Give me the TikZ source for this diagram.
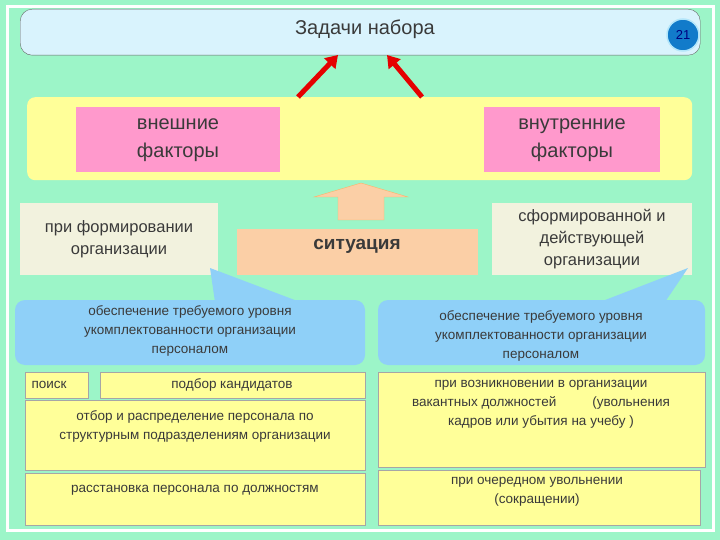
\documentclass[tikz,border=0pt]{standalone}
\usepackage{fontspec}
\setmainfont{Liberation Sans}
\usetikzlibrary{arrows.meta}
\definecolor{mint}{HTML}{9CF5C8}
\definecolor{ylw}{HTML}{FFFF99}
\definecolor{pnk}{HTML}{FF99CC}
\definecolor{beig}{HTML}{F2F2DE}
\definecolor{peach}{HTML}{FBCFA6}
\definecolor{cblue}{HTML}{8FD0F8}
\definecolor{txt}{HTML}{3A3A3A}
\begin{document}
\begin{tikzpicture}[x=1pt,y=-1pt,
  box/.style={draw=black!35,fill=ylw,inner sep=2pt,align=center,text=txt},
  sm/.style={align=center,font=\fontsize{13.5}{19}\selectfont,text=txt},
  tbox/.style={fill=beig,align=center,font=\fontsize{16.5}{22}\selectfont,text=txt},
  pbox/.style={fill=pnk,align=center,font=\fontsize{20}{28}\selectfont,text=txt},
  redarr/.style={line width=5pt,-{Triangle[length=12pt,width=15pt]},red!90!black}]
\fill[mint] (0,0) rectangle (720,540);
\draw[white,line width=3pt] (7,7) rectangle (713,530);
% title
\node[draw=black!60,fill=cyan!15,rounded corners=12pt,minimum width=680pt,minimum height=46pt,anchor=north west] (title) at (20,9) {};
\node[font=\fontsize{20}{24}\selectfont,text=txt] (tt) at (365,29) {Задачи набора};
\node[circle,fill=cyan!60!blue,draw=cyan!30,line width=1.5pt,minimum size=32pt,text=blue!50!black,font=\fontsize{13}{15}\selectfont] (num) at (683,35) {21};
% yellow band
\node[fill=ylw,rounded corners=8pt,minimum width=665pt,minimum height=83pt,anchor=north west] (band) at (27,97) {};
\node[pbox,minimum width=204pt,minimum height=65pt] (ext) at (178,140) {внешние\\факторы};
\node[pbox,minimum width=176pt,minimum height=65pt] (int) at (572,140) {внутренние\\факторы};
\coordinate (a1) at (298,97); \coordinate (a2) at (422,97);
\coordinate (t1) at (338,55); \coordinate (t2) at (387,55);
\draw[redarr] (a1) -- (t1);
\draw[redarr] (a2) -- (t2);
% hollow arrow
\draw[fill=peach,draw=orange!60] (338,220) -- (338,197) -- (314,197) -- (361,183) -- (408,197) -- (384,197) -- (384,220) -- cycle;
% middle boxes
\node[tbox,minimum width=198pt,minimum height=72pt] (lt) at (119,239) {при формировании\\организации};
\node[fill=peach,minimum width=241pt,minimum height=45pt] (sit) at (357,252) {};
\node[font=\bfseries\fontsize{19}{22}\selectfont,text=txt] (sitt) at (357,246) {ситуация};
\node[tbox,minimum width=200pt,minimum height=72pt] (rt) at (592,239) {сформированной и\\действующей\\организации};
% callouts
\fill[cblue,rounded corners=10pt] (15,300) rectangle (365,365);
\fill[cblue] (210,268) -- (215,302) -- (300,302) -- cycle;
\fill[cblue,rounded corners=10pt] (378,300) rectangle (705,365);
\fill[cblue] (688,268) -- (600,302) -- (665,302) -- cycle;
\node[sm] (cl) at (190,331) {обеспечение требуемого уровня\\укомплектованности организации\\персоналом};
\node[sm] (cr) at (541,336) {обеспечение требуемого уровня\\укомплектованности организации\\персоналом};
% yellow boxes left
\node[box,minimum width=63pt,minimum height=26pt,anchor=north west] (poisk) at (25,372) {};
\node[sm,anchor=west] (poiskt) at (28,385) {поиск};
\node[box,minimum width=265pt,minimum height=26pt,anchor=north west] (podbor) at (100,372) {};
\node[sm] (podt) at (232,385) {подбор кандидатов};
\node[box,minimum width=340pt,minimum height=70pt,anchor=north west] (otbor) at (25,400) {};
\node[sm] (otbt) at (195,426) {отбор и распределение персонала по\\структурным подразделениям организации};
\node[box,minimum width=340pt,minimum height=52pt,anchor=north west] (rass) at (25,473) {};
\node[sm] (rasst) at (195,490) {расстановка персонала по должностям};
% right
\node[box,minimum width=327pt,minimum height=95pt,anchor=north west] (vozn) at (378,372) {};
\node[sm] (vozt) at (541,404) {при возникновении в организации\\вакантных должностей\hspace{36pt}(увольнения\\кадров или убытия на учебу )};
\node[box,minimum width=322pt,minimum height=55pt,anchor=north west] (ocher) at (378,470) {};
\node[sm] (ochert) at (537,492) {при очередном увольнении\\(сокращении)};
\end{tikzpicture}
\end{document}
